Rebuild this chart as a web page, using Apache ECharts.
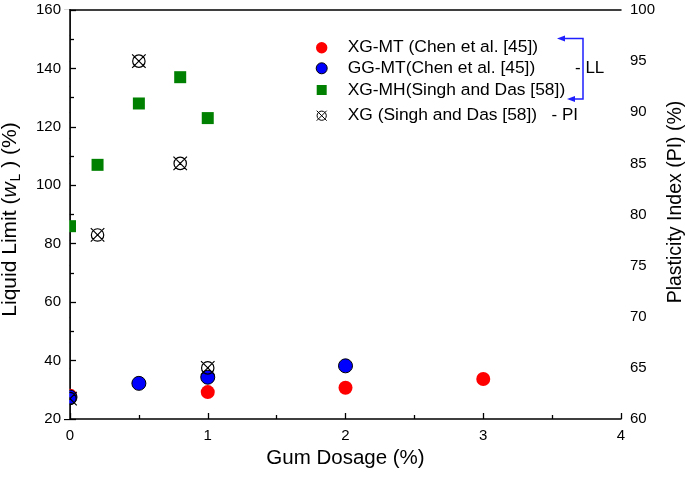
<!DOCTYPE html>
<html>
<head>
<meta charset="utf-8">
<script src="https://cdn.jsdelivr.net/npm/echarts@6/dist/echarts.min.js"></script>
<style>html,body{margin:0;padding:0;background:#fff;}#c{width:685px;height:479px;}</style>
</head>
<body>
<div id="c"></div>
<script>
// ---- data ----
const seriesNames = ['XG-MT (Chen et al. [45])', 'GG-MT(Chen et al. [45])', 'XG-MH(Singh and Das [58])', 'XG (Singh and Das [58])'];
const dosageXGMT = [0, 1, 2, 3];
const llXGMT = [28, 29.2, 30.7, 33.7];
const dosageGGMT = [0, 0.5, 1, 2];
const llGGMT = [27.5, 32.2, 34.3, 38.2];
const dosageXGMH = [0, 0.2, 0.5, 0.8, 1];
const llXGMH = [86, 107, 128, 137, 123];
const dosageXG = [0, 0.2, 0.5, 0.8, 1];
const piXG = [62, 78, 95, 85, 65];
const xTicks = [0, 1, 2, 3, 4];
const yLeftTicks = [20, 40, 60, 80, 100, 120, 140, 160];
const yRightTicks = [60, 65, 70, 75, 80, 85, 90, 95, 100];

const FONT = '"Liberation Sans", Arial, sans-serif';
const pairs = (xs, ys) => xs.map((x, i) => [x, ys[i]]);
const crossPath = 'path://M-6,-6L6,6M6,-6L-6,6M-5.5,0A5.5,5.5,0,1,1,5.5,0A5.5,5.5,0,1,1,-5.5,0Z';

const GRID = { left: 70, right: 64, top: 10, bottom: 60 };
const axisLineStyle = { lineStyle: { color: '#000', width: 1.5 } };
const tick = { show: true, inside: true, length: 6, lineStyle: { color: '#000', width: 1.3 } };
const minor = { show: true, splitNumber: 2, length: 4, lineStyle: { color: '#000', width: 1.3 } };
const label = { color: '#000', fontSize: 15, fontFamily: FONT, margin: 9 };

const chart = echarts.init(document.getElementById('c'), null, { renderer: 'canvas' });

// legend graphics
const legendRowsY = [47.7, 68.3, 90, 115.7];
const mk = 321.7, tx = 347.7;
const graphics = [
  // mask left of the plot area so points on x=0 appear cut by the axis
  { type: 'rect', z: 3, silent: true, shape: { x: GRID.left - 9, y: GRID.top, width: 8.2, height: 479 - GRID.top - GRID.bottom }, style: { fill: '#fff' } },
  { type: 'circle', shape: { cx: mk, cy: legendRowsY[0], r: 5.7 }, style: { fill: '#ff0000' } },
  { type: 'circle', shape: { cx: mk, cy: legendRowsY[1], r: 5.5 }, style: { fill: '#0000ff', stroke: '#000', lineWidth: 1 } },
  { type: 'rect', shape: { x: mk - 5, y: legendRowsY[2] - 5, width: 10, height: 10 }, style: { fill: '#008000' } },
  { type: 'group', x: mk, y: legendRowsY[3], children: [
    { type: 'line', shape: { x1: -5, y1: -5, x2: 5, y2: 5 }, style: { stroke: '#000', lineWidth: 1 } },
    { type: 'line', shape: { x1: 5, y1: -5, x2: -5, y2: 5 }, style: { stroke: '#000', lineWidth: 1 } },
    { type: 'circle', shape: { cx: 0, cy: 0, r: 4.6 }, style: { fill: 'none', stroke: '#000', lineWidth: 1 } }
  ] },
  // bracket
  { type: 'polyline', shape: { points: [[564, 38.5], [583, 38.5], [583, 99], [574, 99]] }, style: { stroke: '#1f1fff', lineWidth: 1.5, fill: 'none' } },
  { type: 'polygon', shape: { points: [[557, 38.5], [565, 35.5], [565, 41.5]] }, style: { fill: '#1f1fff' } },
  { type: 'polygon', shape: { points: [[567, 99], [575, 96], [575, 102]] }, style: { fill: '#1f1fff' } },
  { type: 'text', x: 575, y: 68.3, style: { text: '- LL', font: '17px ' + FONT, fill: '#000', verticalAlign: 'middle' } },
  { type: 'text', x: 551.5, y: 115.7, style: { text: '- PI', font: '17px ' + FONT, fill: '#000', verticalAlign: 'middle' } }
];
seriesNames.forEach((n, i) => {
  graphics.push({ type: 'text', x: tx, y: legendRowsY[i], style: { text: n, font: '17.4px ' + FONT, fill: '#000', verticalAlign: 'middle' } });
});

const option = {
  animation: false,
  backgroundColor: '#fff',
  grid: { left: GRID.left, right: GRID.right, top: GRID.top, bottom: GRID.bottom, containLabel: false, outerBoundsMode: 'none' },
  xAxis: [
    {
      type: 'value', position: 'bottom', min: xTicks[0], max: xTicks[xTicks.length - 1], interval: 1,
      axisLine: axisLineStyle, axisTick: tick, minorTick: minor, splitLine: { show: false },
      axisLabel: label,
      name: 'Gum Dosage (%)', nameLocation: 'middle', nameGap: 28,
      nameTextStyle: { color: '#000', fontSize: 20.5, fontFamily: FONT }
    },
    {
      type: 'value', position: 'top', min: xTicks[0], max: xTicks[xTicks.length - 1], interval: 1,
      axisLine: axisLineStyle, axisTick: { show: false }, axisLabel: { show: false }, splitLine: { show: false }
    }
  ],
  yAxis: [
    {
      type: 'value', position: 'left', min: yLeftTicks[0], max: yLeftTicks[yLeftTicks.length - 1], interval: 20,
      axisLine: { show: true, ...axisLineStyle }, axisTick: tick, minorTick: minor, splitLine: { show: false },
      axisLabel: label,
      name: '{n|Liquid Limit (}{i|w}{s|L}{n| ) (%)}', nameLocation: 'middle', nameGap: 47, nameRotate: 90,
      nameTextStyle: {
        color: '#000', fontSize: 21, fontFamily: FONT, padding: [0, 10, 0, 0],
        rich: {
          n: { fontSize: 21, fontFamily: FONT, color: '#000' },
          i: { fontSize: 21, fontFamily: FONT, fontStyle: 'italic', color: '#000' },
          s: { fontSize: 14, fontFamily: FONT, color: '#000', padding: [12, 0, 0, 1] }
        }
      }
    },
    {
      type: 'value', position: 'right', min: yRightTicks[0], max: yRightTicks[yRightTicks.length - 1], interval: 5,
      axisLine: { show: true, ...axisLineStyle }, axisTick: tick, minorTick: minor, splitLine: { show: false },
      axisLabel: label,
      name: 'Plasticity Index (PI) (%)', nameLocation: 'middle', nameGap: 39, nameRotate: 90,
      nameTextStyle: { color: '#000', fontSize: 19.5, fontFamily: FONT, padding: [0, 0, 0, 25] }
    }
  ],
  series: [
    { name: seriesNames[0], type: 'scatter', xAxisIndex: 0, yAxisIndex: 0, symbol: 'circle', symbolSize: 14,
      itemStyle: { color: '#ff0000', opacity: 1 }, data: pairs(dosageXGMT, llXGMT) },
    { name: seriesNames[1], type: 'scatter', xAxisIndex: 0, yAxisIndex: 0, symbol: 'circle', symbolSize: 14,
      itemStyle: { color: '#0000ff', borderColor: '#000', borderWidth: 1, opacity: 1 }, data: pairs(dosageGGMT, llGGMT) },
    { name: seriesNames[2], type: 'scatter', xAxisIndex: 0, yAxisIndex: 0, symbol: 'rect', symbolSize: 12,
      itemStyle: { color: '#008000', opacity: 1 }, data: pairs(dosageXGMH, llXGMH) },
    { name: seriesNames[3], type: 'scatter', xAxisIndex: 0, yAxisIndex: 1, symbol: crossPath, symbolSize: 13.5, symbolKeepAspect: true,
      itemStyle: { color: 'rgba(0,0,0,0)', borderColor: '#000', borderWidth: 1.2, opacity: 1 }, data: pairs(dosageXG, piXG) }
  ],
  graphic: graphics
};
chart.setOption(option);
</script>
</body>
</html>
